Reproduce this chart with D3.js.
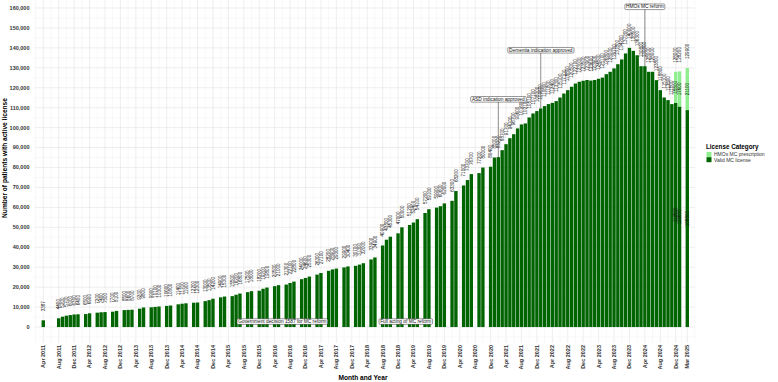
<!DOCTYPE html>
<html><head><meta charset="utf-8">
<script src="https://cdn.jsdelivr.net/npm/d3@7"></script>
<style>body{margin:0;background:#fff} svg{display:block;font-family:"Liberation Sans",Arial,sans-serif}</style>
</head><body><svg id="c" width="778" height="382"></svg>
<script>
// ---------------- DATA ----------------
const months = [
"2011-04","2011-08","2011-09","2011-10","2011-11","2011-12","2012-01","2012-03","2012-04",
"2012-06","2012-07","2012-08","2012-10","2012-11","2013-01","2013-02","2013-03","2013-05","2013-06",
"2013-08","2013-09","2013-10","2013-12","2014-01","2014-03","2014-04","2014-05","2014-07","2014-08",
"2014-10","2014-11","2014-12","2015-02","2015-03","2015-05","2015-06","2015-07","2015-09","2015-10",
"2015-12","2016-01","2016-02","2016-04","2016-05","2016-07","2016-08","2016-09","2016-11","2016-12",
"2017-01","2017-03","2017-04","2017-06","2017-07","2017-08","2017-10","2017-11","2018-01","2018-02",
"2018-03","2018-05","2018-06","2018-08","2018-09","2018-10","2018-12","2019-01","2019-03","2019-04",
"2019-05","2019-07","2019-08","2019-10","2019-11","2019-12","2020-02","2020-03","2020-05","2020-06",
"2020-07","2020-09","2020-10",
"2020-12","2021-01","2021-02","2021-03","2021-04","2021-05","2021-06","2021-07","2021-08","2021-09",
"2021-10","2021-11","2021-12","2022-01","2022-02","2022-03","2022-04","2022-05","2022-06","2022-07",
"2022-08","2022-09","2022-10","2022-11","2022-12","2023-01","2023-02","2023-03","2023-04","2023-05",
"2023-06","2023-07","2023-08","2023-09","2023-10","2023-11","2023-12","2024-01","2024-02","2024-03",
"2024-04","2024-05","2024-06","2024-07","2024-08","2024-09","2024-10","2024-11","2024-12","2025-01",
"2025-03"];
const validLicense = [
3387,4400,5200,5700,6000,6300,6400,6500,6900,
7200,7400,7500,7700,8100,8500,8600,8700,9200,9800,
9900,10100,10300,10600,10800,11400,11700,11900,12200,12300,
13000,13500,14200,14900,15300,15500,16200,16800,17500,18000,
18200,19200,19800,20500,21000,21300,22100,22800,24000,24600,
25300,26300,27100,28200,28900,29300,29900,30400,30700,31300,
32000,33900,34900,40900,43800,45300,47000,50000,51200,52400,
54100,57200,59100,59900,60600,62000,63300,68200,71000,73700,
76700,77200,80000,
80400,85000,85200,88700,91700,94700,96700,99600,101600,102100,
105100,107100,108300,109600,110800,111800,112400,113300,115100,117100,
118800,120500,122100,123000,123500,123900,123600,123900,124500,125100,
126800,128000,129700,131800,134200,137200,140000,138500,136300,130800,
130800,128000,128000,123800,118800,115100,113800,111800,112500,110600,
108800];
const hmoPrescription = months.map((m,i) => 0);
hmoPrescription[months.indexOf("2024-12")] = 15500;
hmoPrescription[months.indexOf("2025-01")] = 17600;
hmoPrescription[months.indexOf("2025-03")] = 21100;

const tickLabels = ["Apr 2011","Aug 2011","Dec 2011","Apr 2012","Aug 2012","Dec 2012","Apr 2013","Aug 2013",
"Dec 2013","Apr 2014","Aug 2014","Dec 2014","Apr 2015","Aug 2015","Dec 2015","Apr 2016","Aug 2016","Dec 2016",
"Apr 2017","Aug 2017","Dec 2017","Apr 2018","Aug 2018","Dec 2018","Apr 2019","Aug 2019","Dec 2019","Apr 2020",
"Aug 2020","Dec 2020","Apr 2021","Aug 2021","Dec 2021","Apr 2022","Aug 2022","Dec 2022","Apr 2023","Aug 2023",
"Dec 2023","Apr 2024","Aug 2024","Dec 2024","Mar 2025"];
const yTicks = [0,10000,20000,30000,40000,50000,60000,70000,80000,90000,100000,110000,120000,130000,140000,150000,160000];

const annoText = ["Government decision 1587 for MC reform","Full acting of MC reform","ASD indication approved","Dementia indication approved","HMOs MC reform"];
const annoMonth = ["2016-06","2019-02","2021-02","2022-01","2024-04"];
const annoLevel = [2750,2750,114200,138800,160600];
const annoLine = [false,false,true,true,true];

const seriesNames = ["HMOs MC prescription","Valid MC license"];
const seriesColors = ["#90ee90","#006400"];

// ---------------- DRAW ----------------
const svg = d3.select("#c");
const idx = s => { const [y,m] = s.split("-").map(Number); return (y-2011)*12 + (m-4); };
const parseTick = d3.timeParse("%b %Y");
const tickIdx = t => { const d = parseTick(t); return (d.getFullYear()-2011)*12 + (d.getMonth()-3); };

const x = d3.scaleLinear().domain([-2.3, 169.0]).range([34.4, 695]);
const y = d3.scaleLinear().domain([-8000, 164000]).range([343, 0]);
const X0 = x.range()[0], X1 = x.range()[1], Y0 = y.range()[0], Y1 = y.range()[1];

const grid = svg.append("g");
// minor horizontal
d3.range(-5000, 164001, 10000).forEach(v => grid.append("line").attr("x1",X0).attr("x2",X1)
  .attr("y1",y(v)).attr("y2",y(v)).attr("stroke","#f0f0f0").attr("stroke-width",0.5));
yTicks.forEach(v => grid.append("line").attr("x1",X0).attr("x2",X1)
  .attr("y1",y(v)).attr("y2",y(v)).attr("stroke","#e2e2e2").attr("stroke-width",0.6));
// vertical grid
const tickPos = tickLabels.map(tickIdx);
const minorPos = [-2];
for (let i=0;i<tickPos.length-1;i++) minorPos.push((tickPos[i]+tickPos[i+1])/2);
minorPos.push(169);
minorPos.forEach(m => grid.append("line").attr("x1",x(m)).attr("x2",x(m))
  .attr("y1",Y0).attr("y2",Y1).attr("stroke","#f0f0f0").attr("stroke-width",0.5));
tickPos.forEach(m => grid.append("line").attr("x1",x(m)).attr("x2",x(m))
  .attr("y1",Y0).attr("y2",Y1).attr("stroke","#e2e2e2").attr("stroke-width",0.6));

// bars
const data = months.map((mo,i) => ({m: idx(mo), v: validLicense[i], h: hmoPrescription[i]}));
const bw = (x(1)-x(0))*0.88;
const bars = svg.append("g");
bars.selectAll("rect.v").data(data).join("rect").attr("class","v")
  .attr("x", d => x(d.m)-bw/2).attr("width", bw)
  .attr("y", d => y(d.v)).attr("height", d => y(0)-y(d.v)).attr("fill", seriesColors[1]);
bars.selectAll("rect.h").data(data.filter(d=>d.h>0)).join("rect").attr("class","h")
  .attr("x", d => x(d.m)-bw/2).attr("width", bw)
  .attr("y", d => y(d.v+d.h)).attr("height", d => y(d.v)-y(d.v+d.h)).attr("fill", seriesColors[0]);

// value labels
const lab = svg.append("g").attr("font-size", 4.6).attr("fill", "#111");
const rotText = (px, py, txt, anchor) => lab.append("text")
  .attr("transform", `translate(${px},${py}) rotate(-90)`).attr("dy","0.35em")
  .attr("text-anchor", anchor).text(txt);
data.forEach(d => {
  const tot = d.v + d.h;
  rotText(x(d.m), y(tot)-9, d3.format("d")(tot), "start");
  if (d.h > 0) {
    rotText(x(d.m), (y(d.v)+y(tot))/2, d3.format("d")(d.h), "middle");
    rotText(x(d.m), (y(0)+y(d.v))/2, d3.format("d")(d.v), "middle");
  }
});

// annotations
const ann = svg.append("g");
annoText.forEach((t,i) => {
  const m = idx(annoMonth[i]);
  const cx = x(m), cy = y(annoLevel[i]);
  if (annoLine[i]) {
    const d = data.find(e => e.m === m);
    ann.append("line").attr("x1",cx).attr("x2",cx).attr("y1",cy).attr("y2",y(d.v+d.h))
      .attr("stroke","#444").attr("stroke-width",0.6);
  }
  const g = ann.append("g");
  const tx = g.append("text").attr("x",cx).attr("y",cy).attr("dy","0.35em")
    .attr("text-anchor","middle").attr("font-size",4.8).attr("fill","#111").text(t);
  const bb = tx.node().getBBox();
  g.insert("rect","text").attr("x",bb.x-1.2).attr("y",cy-2.8).attr("width",bb.width+2.4).attr("height",5.6)
    .attr("rx",1.2).attr("fill","#fff").attr("stroke","#333").attr("stroke-width",0.5);
});

// axes labels
const ax = svg.append("g").attr("font-weight","bold").attr("fill","#333");
yTicks.forEach(v => ax.append("text").attr("x",29.5).attr("y",y(v)).attr("dy","0.35em")
  .attr("text-anchor","end").attr("font-size",5.5).text(d3.format(",")(v)));
tickLabels.forEach((t,i) => ax.append("text")
  .attr("transform",`translate(${x(tickPos[i])},345) rotate(-90)`).attr("dy","0.35em")
  .attr("text-anchor","end").attr("font-size",5.5).text(t));
svg.append("text").attr("x",363).attr("y",380).attr("text-anchor","middle")
  .attr("font-weight","bold").attr("font-size",6.6).attr("fill","#000").text("Month and Year");
svg.append("text").attr("transform","translate(7,158) rotate(-90)").attr("text-anchor","middle")
  .attr("font-weight","bold").attr("font-size",6.6).attr("fill","#000").text("Number of patients with active license");

// legend
const lg = svg.append("g");
lg.append("text").attr("x",706).attr("y",149).attr("font-weight","bold").attr("font-size",6.3).text("License Category");
seriesNames.forEach((s,i) => {
  lg.append("rect").attr("x",706.5).attr("y",152+i*5.2).attr("width",5).attr("height",5).attr("fill",seriesColors[i]);
  lg.append("text").attr("x",714).attr("y",154.6+i*5.2).attr("dy","0.35em").attr("font-size",5).attr("fill","#333").text(s);
});
</script></body></html>
